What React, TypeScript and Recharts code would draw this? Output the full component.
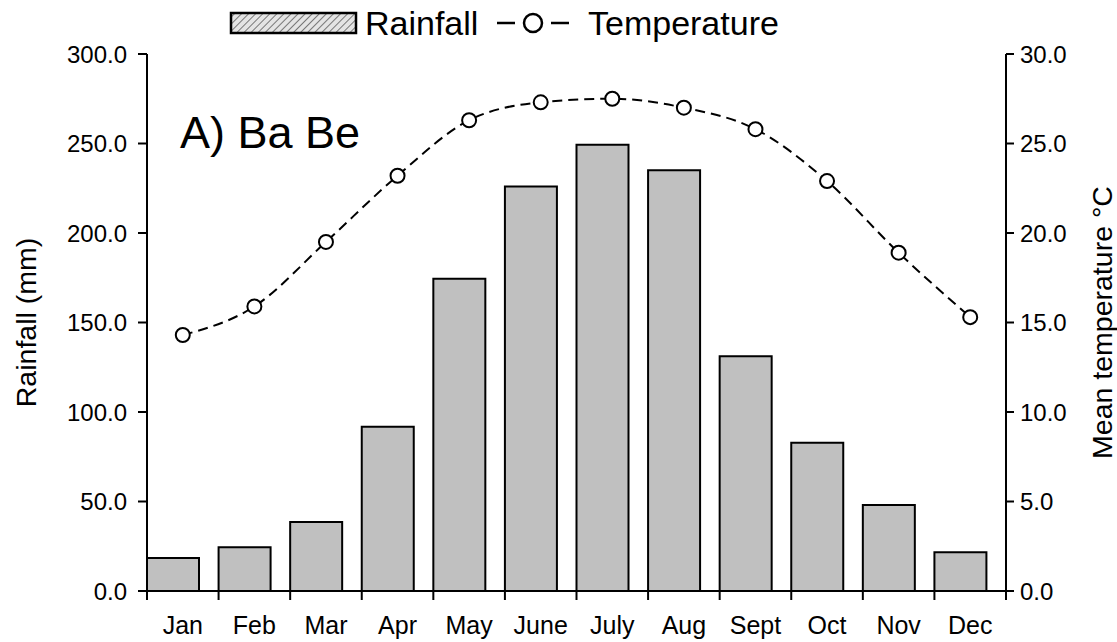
import { ComposedChart, Bar, Line, XAxis, YAxis } from 'recharts'

const months = ['Jan', 'Feb', 'Mar', 'Apr', 'May', 'June', 'July', 'Aug', 'Sept', 'Oct', 'Nov', 'Dec']
const rainfall = [18.4, 24.5, 38.6, 91.7, 174.5, 226, 249.3, 235, 131.2, 82.8, 48, 21.7]
const temperature = [14.3, 15.9, 19.5, 23.2, 26.3, 27.3, 27.5, 27.0, 25.8, 22.9, 18.9, 15.3]
const rainTicks = [0, 50, 100, 150, 200, 250, 300]
const tempTicks = [0, 5, 10, 15, 20, 25, 30]

const data = months.map((m, i) => ({ month: m, rain: rainfall[i], temp: temperature[i] }))

const FONT = '"Liberation Sans", Arial, sans-serif'
const tickStyle = { fontSize: 24, fill: '#000', fontFamily: FONT }
const titleStyle = { textAnchor: 'middle', fontSize: 28.5, fill: '#000', fontFamily: FONT }

// month label centred in its band, tick marks on the band edges
const MonthTick = (props: any) => {
  const { x, y, payload } = props
  const half = payload.offset || 0
  const last = payload.index === months.length - 1
  return (
    <g>
      <line x1={x - half} y1={y} x2={x - half} y2={y + 9} stroke="#000" strokeWidth={2} />
      {last && <line x1={x + half} y1={y} x2={x + half} y2={y + 9} stroke="#000" strokeWidth={2} />}
      <text x={x} y={y + 43} textAnchor="middle" fontSize={25} fontFamily={FONT} fill="#000">
        {payload.value}
      </text>
    </g>
  )
}

export default function App() {
  return (
    <div style={{ position: 'absolute', left: 0, top: 0, width: 1117, height: 642, background: '#fff' }}>
      <ComposedChart
        width={1117}
        height={642}
        data={data}
        margin={{ top: 54, right: 0, bottom: 0, left: 0 }}
        barCategoryGap={0}
        barGap={0}
      >
        <XAxis
          dataKey="month"
          height={51}
          axisLine={{ stroke: '#000', strokeWidth: 2 }}
          tickLine={false}
          tickSize={0}
          tickMargin={0}
          interval={0}
          tick={<MonthTick />}
        />
        <YAxis
          yAxisId="rain"
          domain={[0, 300]}
          ticks={rainTicks}
          width={147}
          tickSize={9}
          tickMargin={11}
          tickFormatter={(v: number) => v.toFixed(1)}
          tick={tickStyle}
          axisLine={{ stroke: '#000', strokeWidth: 2 }}
          tickLine={{ stroke: '#000', strokeWidth: 2 }}
          label={{ value: 'Rainfall (mm)', angle: -90, position: 'insideLeft', offset: 26, style: titleStyle }}
        />
        <YAxis
          yAxisId="temp"
          orientation="right"
          domain={[0, 30]}
          ticks={tempTicks}
          width={111}
          tickSize={8}
          tickMargin={6}
          tickFormatter={(v: number) => v.toFixed(1)}
          tick={tickStyle}
          axisLine={{ stroke: '#000', strokeWidth: 2 }}
          tickLine={{ stroke: '#000', strokeWidth: 2 }}
          label={{ value: 'Mean temperature °C', angle: -90, position: 'insideRight', offset: 15, style: titleStyle }}
        />
        <Bar
          yAxisId="rain"
          dataKey="rain"
          barSize={52}
          fill="#c0c0c0"
          stroke="#000"
          strokeWidth={2}
          isAnimationActive={false}
        />
        {/* empty slot so bars sit at the left of each month */}
        <Bar yAxisId="rain" dataKey="none" barSize={19} isAnimationActive={false} />
        <Line
          yAxisId="temp"
          dataKey="temp"
          type="monotone"
          stroke="#000"
          strokeWidth={2}
          strokeDasharray="10 6"
          dot={{ r: 7, fill: '#fff', stroke: '#000', strokeWidth: 2, strokeDasharray: '' }}
          isAnimationActive={false}
        />
      </ComposedChart>
      <svg
        width={1117}
        height={642}
        style={{ position: 'absolute', left: 0, top: 0, pointerEvents: 'none' }}
      >
        <defs>
          <pattern id="hatch" width="5" height="5" patternUnits="userSpaceOnUse" patternTransform="rotate(45)">
            <rect width="5" height="5" fill="#e4e4e4" />
            <line x1="0" y1="0" x2="0" y2="5" stroke="#777" strokeWidth="2" />
          </pattern>
        </defs>
        <rect x={231} y={13} width={125} height={20} fill="url(#hatch)" stroke="#000" strokeWidth={2.5} />
        <text x={365} y={35} fontSize={34} fontFamily={FONT} fill="#000">Rainfall</text>
        <line x1={497} y1={23} x2={515} y2={23} stroke="#000" strokeWidth={2.5} />
        <circle cx={533} cy={23} r={9} fill="#fff" stroke="#000" strokeWidth={2.5} />
        <line x1={551} y1={23} x2={569} y2={23} stroke="#000" strokeWidth={2.5} />
        <text x={588} y={35} fontSize={34} fontFamily={FONT} fill="#000">Temperature</text>
        <text x={180} y={148} fontSize={45} fontFamily={FONT} fill="#000">A) Ba Be</text>
      </svg>
    </div>
  )
}
